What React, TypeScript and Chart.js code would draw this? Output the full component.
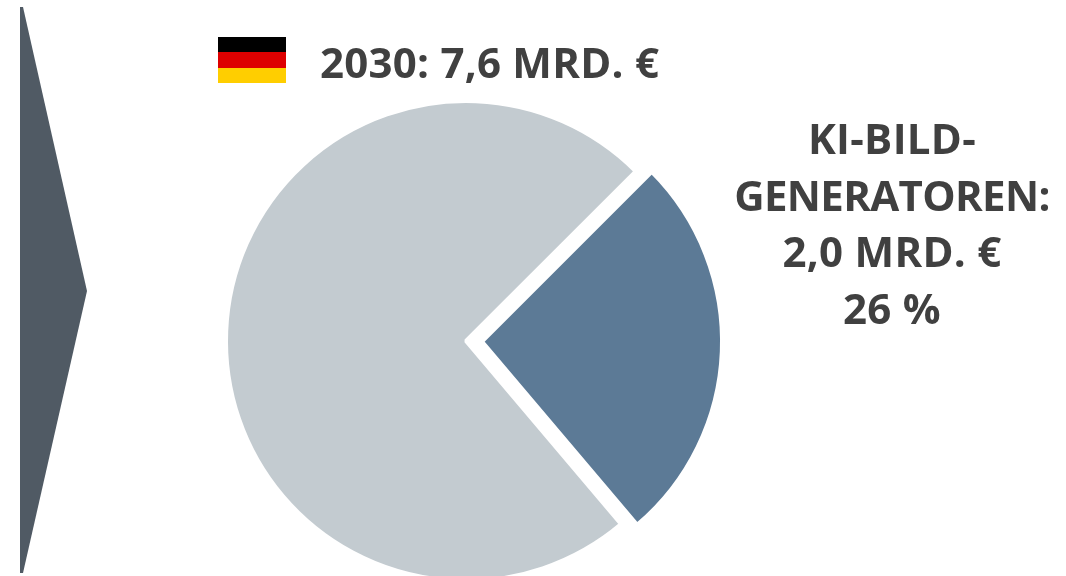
import React, { useEffect, useRef } from "react";
import { Chart, registerables } from "chart.js";

Chart.register(...registerables);

const categories = ["KI-Bild-Generatoren", "Sonstige"];
const values = [2.0, 5.6];
const sliceColors = ["#5c7a96", "#c3cbd0"];
const titleText = "2030: 7,6 MRD. €";
const labelLines = ["KI-BILD-", "GENERATOREN:", "2,0 MRD. €", "26 %"];
const flagColors = ["#000000", "#dd0000", "#ffce00"];

const font = "'Open Sans', sans-serif";

export default function App() {
  const ref = useRef<HTMLCanvasElement>(null);
  useEffect(() => {
    const chart = new Chart(ref.current!, {
      type: "pie",
      data: {
        labels: categories,
        datasets: [
          {
            data: values,
            backgroundColor: sliceColors,
            borderColor: "#ffffff",
            borderWidth: 4,
            offset: [64, 0],
            radius: 240,
          } as any,
        ],
      },
      options: {
        animation: false,
        responsive: false,
        rotation: 45,
        layout: { padding: 0 },
        plugins: { legend: { display: false }, tooltip: { enabled: false } },
      },
    });
    return () => chart.destroy();
  }, []);

  return (
    <div style={{ position: "absolute", left: 0, top: 0, width: 1066, height: 576, overflow: "hidden", background: "#fff", fontFamily: font }}>
      <svg width={100} height={576} style={{ position: "absolute", left: 0, top: 0 }}>
        <polygon points="20,7 23,7 87,291 23,573 20,573" fill="#505a64" />
      </svg>
      <canvas ref={ref} width={932} height={682} style={{ position: "absolute", left: 0, top: 0, width: 932, height: 682 }} />
      <div style={{ position: "absolute", left: 218, top: 37, width: 68, height: 46 }}>
        {flagColors.map((c) => (
          <div key={c} style={{ height: 46 / 3, background: c }} />
        ))}
      </div>
      <div style={{ position: "absolute", left: 320, top: 34, fontSize: 42, fontWeight: 700, lineHeight: "56px", letterSpacing: "0.25px", color: "#404040", whiteSpace: "nowrap" }}>
        {titleText}
      </div>
      <div style={{ position: "absolute", left: 721, top: 110, width: 342, textAlign: "center", fontSize: 42, fontWeight: 700, lineHeight: "56.7px", color: "#404040" }}>
        {labelLines.map((l) => (
          <div key={l} style={{ whiteSpace: "nowrap", letterSpacing: l.length > 10 ? "-0.65px" : "0.3px" }}>{l}</div>
        ))}
      </div>
    </div>
  );
}
